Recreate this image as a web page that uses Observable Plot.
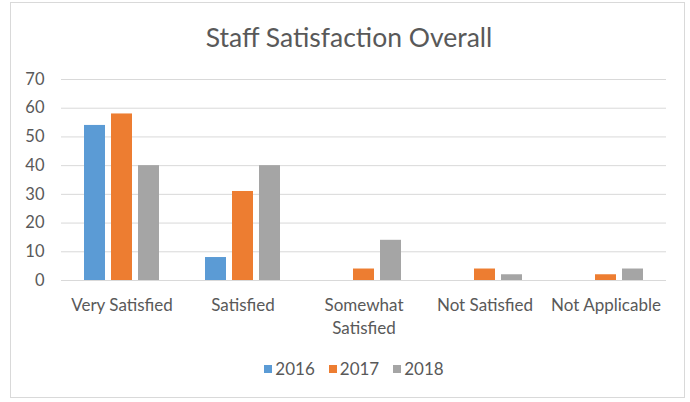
<!DOCTYPE html>
<html>
<head>
<meta charset="utf-8">
<script src="https://cdn.jsdelivr.net/npm/d3@7"></script>
<script src="https://cdn.jsdelivr.net/npm/@observablehq/plot@0.6"></script>
<style>
  html, body { margin: 0; padding: 0; background: #fff; }
  #wrap { position: relative; width: 690px; height: 402px; font-family: Lato, "Open Sans", sans-serif; color: #595959; }
  #frame { position: absolute; left: 10px; top: 2px; width: 675px; height: 396px; border: 1px solid #D9D9D9; box-sizing: border-box; }
  #title { position: absolute; left: 0; top: 21px; width: 698px; text-align: center; font-size: 26.5px; color: #595959; }
  #chart { position: absolute; left: 0; top: 60px; }
  #legend { position: absolute; left: 0; top: 358px; width: 708px; display: flex; justify-content: center; font-size: 17px; color: #595959; }
  .item { display: flex; align-items: center; margin: 0 7px; }
  .sw { width: 8px; height: 8px; margin-right: 3px; }
</style>
</head>
<body>
<div id="wrap">
  <div id="frame"></div>
  <div id="title">Staff Satisfaction Overall</div>
  <div id="chart"></div>
  <div id="legend"></div>
</div>
<script>
const categories = ["Very Satisfied", "Satisfied", "Somewhat Satisfied", "Not Satisfied", "Not Applicable"];
const categoryLabels = ["Very Satisfied", "Satisfied", "Somewhat\nSatisfied", "Not Satisfied", "Not Applicable"];
const years = ["2016", "2017", "2018"];
const values2016 = [54, 8, 0, 0, 0];
const values2017 = [58, 31, 4, 4, 2];
const values2018 = [40, 40, 14, 2, 4];
const colors = ["#5B9BD5", "#ED7D31", "#A5A5A5"];
const yTicks = [0, 10, 20, 30, 40, 50, 60, 70];

const series = [values2016, values2017, values2018];
const data = [];
categories.forEach((c, i) => {
  years.forEach((y, j) => {
    data.push({category: c, year: y, value: series[j][i]});
  });
});
const labelOf = new Map(categories.map((c, i) => [c, categoryLabels[i]]));

const plot = Plot.plot({
  width: 690,
  height: 285,
  marginLeft: 60,
  marginRight: 24,
  marginTop: 19,
  marginBottom: 65,
  style: {fontFamily: "Lato, 'Open Sans', sans-serif", fontSize: "16px", color: "#595959", background: "transparent"},
  fx: {domain: categories, padding: 0, axis: null},
  x: {domain: years, paddingInner: 0.22, paddingOuter: 0.85, axis: null},
  y: {domain: [0, 70], axis: null},
  color: {domain: years, range: colors},
  marks: [
    Plot.gridY(yTicks, {stroke: "#D9D9D9", strokeOpacity: 1, strokeWidth: 1}),
    Plot.barY(data, {fx: "category", x: "year", y: "value", fill: "year"}),
    Plot.axisY(yTicks, {tickSize: 0, tickPadding: 17, fontSize: 16.5, fill: "#595959", label: null}),
    Plot.axisFx({anchor: "bottom", tickSize: 0, tickPadding: 14, fontSize: 17, fill: "#595959", lineHeight: 1.35, tickFormat: (d) => labelOf.get(d), label: null})
  ]
});
document.getElementById("chart").appendChild(plot);

const cs = plot.scale("color");
const legend = document.getElementById("legend");
cs.domain.forEach((d, i) => {
  const item = document.createElement("div");
  item.className = "item";
  const sw = document.createElement("span");
  sw.className = "sw";
  sw.style.background = cs.range[i];
  const t = document.createElement("span");
  t.textContent = d;
  item.appendChild(sw);
  item.appendChild(t);
  legend.appendChild(item);
});
</script>
</body>
</html>
